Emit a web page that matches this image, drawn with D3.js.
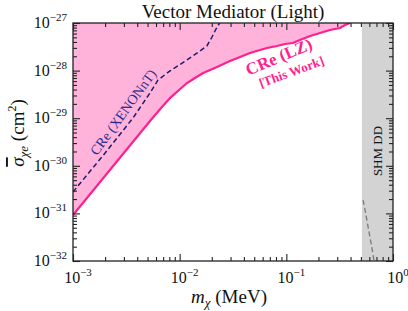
<!DOCTYPE html>
<html>
<head>
<meta charset="utf-8">
<script src="https://cdn.jsdelivr.net/npm/d3@7"></script>
<style>
  body { margin: 0; background: #fff; }
  svg text { font-family: "Liberation Serif", "DejaVu Serif", serif; fill: #111; }
</style>
</head>
<body>
<div id="chart"></div>
<script>
// LZ cosmic-ray electron bound (mass in MeV, cross section in cm^2)
const lzMass = [1.0e-3, 5.27e-3, 6.82e-3, 8.11e-3, 1.01e-2, 1.17e-2, 1.39e-2, 1.66e-2,
  2.24e-2, 2.96e-2, 3.68e-2, 4.56e-2, 5.66e-2, 6.59e-2, 8.17e-2, 9.70e-2, 0.115,
  0.134, 0.167, 0.207, 0.256, 0.318, 0.355, 0.395];
const lzSigma = [9.25e-32, 8.73e-30, 1.72e-29, 2.65e-29, 4.10e-29, 5.48e-29, 7.0e-29,
  8.91e-29, 1.19e-28, 1.59e-28, 1.93e-28, 2.34e-28, 2.71e-28, 2.99e-28, 3.29e-28,
  3.62e-28, 3.80e-28, 4.40e-28, 5.33e-28, 6.17e-28, 7.13e-28, 7.85e-28, 9.08e-28, 1.0e-27];

// XENONnT CRe bound
const xeMass = [1.0e-3, 2.0e-3, 3.65e-3, 5.27e-3, 6.27e-3, 8.11e-3, 1.17e-2, 1.55e-2,
  1.80e-2, 2.01e-2, 2.19e-2, 2.37e-2];
const xeSigma = [2.82e-31, 1.86e-30, 1.01e-29, 3.38e-29, 6.36e-29, 9.82e-29, 1.67e-28,
  2.58e-28, 3.29e-28, 5.08e-28, 7.48e-28, 1.0e-27];

// SHM direct detection (edge of plot)
const shmMass = [0.524, 0.558, 0.596, 0.635, 0.664];
const shmSigma = [1.91e-31, 9.25e-32, 4.06e-32, 1.87e-32, 1.0e-32];
const shmBand = [0.511, 1.0];

const xDomain = [1e-3, 1];
const yDomain = [1e-32, 1e-27];
const xTickExp = [-3, -2, -1, 0];
const yTickExp = [-32, -31, -30, -29, -28, -27];

const W = 408, H = 311;
const margin = { top: 23, right: 15, bottom: 50, left: 73 };
const width = W - margin.left - margin.right;
const height = H - margin.top - margin.bottom;

const x = d3.scaleLog().domain(xDomain).range([0, width]);
const y = d3.scaleLog().domain(yDomain).range([height, 0]);

const svg = d3.select("#chart").append("svg")
  .attr("width", W).attr("height", H);

svg.append("defs").append("clipPath").attr("id", "clip")
  .append("rect").attr("width", width).attr("height", height);

const g = svg.append("g")
  .attr("transform", "translate(" + margin.left + "," + margin.top + ")");

const plot = g.append("g").attr("clip-path", "url(#clip)");

const lz = lzMass.map((m, i) => ({ m: m, s: lzSigma[i] }));
const xe = xeMass.map((m, i) => ({ m: m, s: xeSigma[i] }));
const shm = shmMass.map((m, i) => ({ m: m, s: shmSigma[i] }));

// excluded region above LZ curve
const area = d3.area()
  .x(d => x(d.m))
  .y0(0)
  .y1(d => y(d.s));
plot.append("path").datum(lz)
  .attr("d", area)
  .attr("fill", "#ffb3da");

// SHM band
plot.append("rect")
  .attr("x", x(shmBand[0]))
  .attr("y", 0)
  .attr("width", x(shmBand[1]) - x(shmBand[0]))
  .attr("height", height)
  .attr("fill", "#d3d3d3");

const line = d3.line().x(d => x(d.m)).y(d => y(d.s));

plot.append("path").datum(shm)
  .attr("d", line)
  .attr("fill", "none")
  .attr("stroke", "#7a7a7a")
  .attr("stroke-width", 1.3)
  .attr("stroke-dasharray", "5,3");

plot.append("path").datum(xe)
  .attr("d", line)
  .attr("fill", "none")
  .attr("stroke", "#1c1c6e")
  .attr("stroke-width", 1.5)
  .attr("stroke-dasharray", "5,3");

plot.append("path").datum(lz)
  .attr("d", line)
  .attr("fill", "none")
  .attr("stroke", "#ff1f8f")
  .attr("stroke-width", 2.2);

// ticks (inward, all four sides)
const majX = xTickExp.map(e => Math.pow(10, e));
const minX = [];
xTickExp.slice(0, -1).forEach(e => { for (let k = 2; k < 10; k++) minX.push(k * Math.pow(10, e)); });
const majY = yTickExp.map(e => Math.pow(10, e));
const minY = [];
yTickExp.slice(0, -1).forEach(e => { for (let k = 2; k < 10; k++) minY.push(k * Math.pow(10, e)); });

const axisStyle = sel => {
  sel.select(".domain").remove();
  sel.selectAll("line").attr("stroke", "#222").attr("stroke-width", 1.1);
  sel.selectAll("text").remove();
};

const addAxis = (axisFn, scale, vals, size, transform) => {
  g.append("g")
    .attr("transform", transform)
    .call(axisFn(scale).tickValues(vals).tickSize(size).tickFormat(""))
    .call(axisStyle);
};

addAxis(d3.axisBottom, x, majX, -7, "translate(0," + height + ")");
addAxis(d3.axisBottom, x, minX, -4, "translate(0," + height + ")");
addAxis(d3.axisTop, x, majX, -7, "translate(0,0)");
addAxis(d3.axisTop, x, minX, -4, "translate(0,0)");
addAxis(d3.axisLeft, y, majY, -7, "translate(0,0)");
addAxis(d3.axisLeft, y, minY, -4, "translate(0,0)");
addAxis(d3.axisRight, y, majY, -7, "translate(" + width + ",0)");
addAxis(d3.axisRight, y, minY, -4, "translate(" + width + ",0)");

// frame
g.append("rect")
  .attr("width", width).attr("height", height)
  .attr("fill", "none")
  .attr("stroke", "#222")
  .attr("stroke-width", 1.3);

// tick labels
const powLabel = (sel, e) => {
  sel.append("tspan").text("10");
  sel.append("tspan").attr("dy", -7).attr("font-size", 11)
    .text(e === 0 ? "0" : "\u2212" + Math.abs(e));
};

xTickExp.forEach(e => {
  const t = g.append("text")
    .attr("x", x(Math.pow(10, e)) + 5)
    .attr("y", height + 22)
    .attr("text-anchor", "middle")
    .attr("font-size", 16);
  powLabel(t, e);
});

yTickExp.forEach(e => {
  const t = g.append("text")
    .attr("x", -6)
    .attr("y", y(Math.pow(10, e)) + 5)
    .attr("text-anchor", "end")
    .attr("font-size", 16);
  powLabel(t, e);
});

// title and axis labels
svg.append("text")
  .attr("x", margin.left + width / 2)
  .attr("y", 18)
  .attr("text-anchor", "middle")
  .attr("font-size", 19)
  .text("Vector Mediator (Light)");

const xl = svg.append("text")
  .attr("x", 229)
  .attr("y", 303)
  .attr("text-anchor", "middle")
  .attr("font-size", 19);
xl.append("tspan").attr("font-style", "italic").text("m");
xl.append("tspan").attr("font-style", "italic").attr("font-size", 13).attr("dy", 4).text("\u03c7");
xl.append("tspan").attr("dy", -4).text(" (MeV)");

const yl = svg.append("text")
  .attr("transform", "translate(24,133) rotate(-90)")
  .attr("text-anchor", "middle")
  .attr("font-size", 19);
yl.append("tspan").attr("font-style", "italic")
  .style("text-decoration", "overline").text("\u03c3");
yl.append("tspan").attr("font-style", "italic").attr("font-size", 13).attr("dy", 4).text("\u03c7e");
yl.append("tspan").attr("dy", -4).text(" (cm");
yl.append("tspan").attr("font-size", 12).attr("dy", -8).text("2");
yl.append("tspan").attr("dy", 8).text(")");

// curve labels
svg.append("text")
  .attr("transform", "translate(127,115) rotate(-54)")
  .attr("text-anchor", "middle")
  .attr("font-size", 14)
  .style("fill", "#2b2b8c")
  .text("CRe (XENONnT)");

svg.append("text")
  .attr("transform", "translate(281,62) rotate(-23)")
  .attr("text-anchor", "middle")
  .attr("font-size", 17)
  .attr("font-weight", "bold")
  .style("fill", "#ff1f8f")
  .text("CRe (LZ)");

svg.append("text")
  .attr("transform", "translate(293,76) rotate(-20)")
  .attr("text-anchor", "middle")
  .attr("font-size", 13)
  .attr("font-weight", "bold")
  .style("fill", "#ff1f8f")
  .text("[This Work]");

svg.append("text")
  .attr("transform", "translate(382,151) rotate(-90)")
  .attr("text-anchor", "middle")
  .attr("font-size", 13)
  .text("SHM DD");
</script>
</body>
</html>
